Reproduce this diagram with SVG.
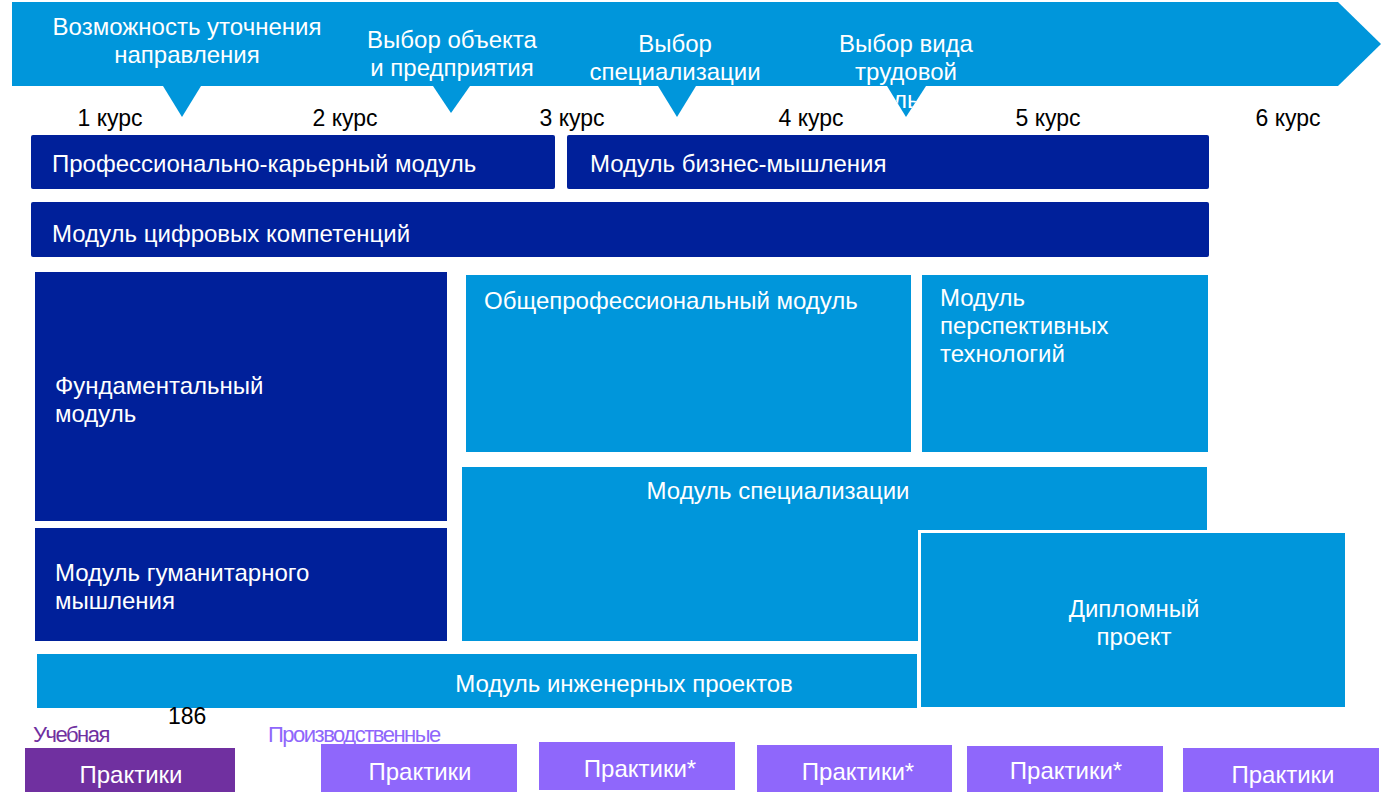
<svg xmlns="http://www.w3.org/2000/svg" width="1383" height="792" viewBox="0 0 1383 792">
<style>
text{font-family:"Liberation Sans",Arial,sans-serif}
.w{fill:#fff;font-size:24px}
.k{fill:#000;font-size:23px}
.c{text-anchor:middle}
.dk{fill:#00209A}
.lt{fill:#0096DB}
.pp{fill:#8F67FB}
.pd{fill:#7030A0}
.n{font-size:24px;fill:#fff}
</style>
<defs>
<clipPath id="bclip"><polygon points="12,2 1338,2 1381,44 1338,86 12,86"/><polygon points="887,86 926,86 906,117"/></clipPath>
</defs>
<g id="banner">
<polygon class="lt" points="12,2 1338,2 1381,44 1338,86 12,86"/>
<polygon class="lt" points="163,86 201,86 182,117"/>
<polygon class="lt" points="433,86 470,86 451,113"/>
<polygon class="lt" points="658,86 696,86 677,117"/>
<polygon class="lt" points="887,86 926,86 906,117"/>
<text class="w c" x="187" y="35">Возможность уточнения</text>
<text class="w c" x="187" y="63">направления</text>
<text class="w c" x="452" y="48">Выбор объекта</text>
<text class="w c" x="452" y="76">и предприятия</text>
<text class="w c" x="675" y="52">Выбор</text>
<text class="w c" x="675" y="80">специализации</text>
<g clip-path="url(#bclip)">
<text class="w c" x="906" y="52">Выбор вида</text>
<text class="w c" x="906" y="80">трудовой</text>
<text class="w c" x="906" y="108">деятельности</text>
</g>
</g>
<g id="courses">
<text class="k c" x="110" y="126">1 курс</text>
<text class="k c" x="345" y="126">2 курс</text>
<text class="k c" x="572" y="126">3 курс</text>
<text class="k c" x="811" y="126">4 курс</text>
<text class="k c" x="1048" y="126">5 курс</text>
<text class="k c" x="1288" y="126">6 курс</text>
</g>
<g id="prof-career">
<rect class="dk" x="31" y="135" width="524" height="54" rx="2"/>
<text class="n" x="52" y="172">Профессионально-карьерный модуль</text>
</g>
<g id="business">
<rect class="dk" x="567" y="135" width="642" height="54" rx="2"/>
<text class="n" x="590" y="172">Модуль бизнес-мышления</text>
</g>
<g id="digital">
<rect class="dk" x="31" y="202" width="1178" height="55" rx="2"/>
<text class="n" x="52" y="242">Модуль цифровых компетенций</text>
</g>
<g id="fundamental">
<rect class="dk" x="35" y="272" width="412" height="249"/>
<text class="n" x="55" y="394">Фундаментальный</text>
<text class="n" x="55" y="422">модуль</text>
</g>
<g id="humanitarian">
<rect class="dk" x="35" y="528" width="412" height="113"/>
<text class="n" x="55" y="581">Модуль гуманитарного</text>
<text class="n" x="55" y="609">мышления</text>
</g>
<g id="general-prof">
<rect class="lt" x="466" y="275" width="445" height="177"/>
<text class="n" x="484" y="309">Общепрофессиональный модуль</text>
</g>
<g id="perspective">
<rect class="lt" x="922" y="275" width="286" height="177"/>
<text class="n" x="940" y="306">Модуль</text>
<text class="n" x="940" y="334">перспективных</text>
<text class="n" x="940" y="362">технологий</text>
</g>
<g id="specialization">
<rect class="lt" x="462" y="467" width="745" height="174"/>
<text class="n c" x="778" y="499">Модуль специализации</text>
</g>
<g id="diploma">
<rect class="lt" x="919.5" y="531.5" width="427" height="177" stroke="#fff" stroke-width="3"/>
<text class="n c" x="1134" y="617">Дипломный</text>
<text class="n c" x="1134" y="645">проект</text>
</g>
<g id="engineering">
<rect class="lt" x="37" y="654" width="880" height="54"/>
<text class="n c" x="624" y="692">Модуль инженерных проектов</text>
</g>
<g id="labels">
<text class="k" x="168" y="724" font-size="25">186</text>
<text x="33" y="742" font-size="22" fill="#7030A0" letter-spacing="-1.5">Учебная</text>
<text x="268" y="742" font-size="22" fill="#8F67FB" letter-spacing="-1.5">Производственные</text>
</g>
<g id="practice1">
<rect class="pd" x="25" y="748" width="210" height="44"/>
<text class="n c" x="131" y="783">Практики</text>
</g>
<g id="practice2">
<rect class="pp" x="321" y="744" width="196" height="48"/>
<text class="n c" x="420" y="780">Практики</text>
</g>
<g id="practice3">
<rect class="pp" x="539" y="742" width="196" height="48"/>
<text class="n c" x="640" y="777">Практики*</text>
</g>
<g id="practice4">
<rect class="pp" x="757" y="745" width="195" height="47"/>
<text class="n c" x="858" y="780">Практики*</text>
</g>
<g id="practice5">
<rect class="pp" x="967" y="746" width="196" height="46"/>
<text class="n c" x="1066" y="779">Практики*</text>
</g>
<g id="practice6">
<rect class="pp" x="1183" y="748" width="196" height="44"/>
<text class="n c" x="1283" y="783">Практики</text>
</g>
<g id="connectors"></g>
</svg>
